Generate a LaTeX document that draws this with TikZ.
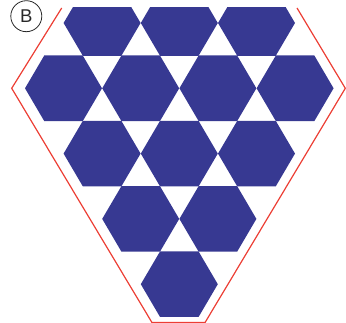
\documentclass[tikz,border=0pt]{standalone}
\usepackage{fontspec}
\setmainfont{Liberation Sans}
\definecolor{hexblue}{RGB}{55,57,146}
\definecolor{outred}{RGB}{236,62,52}
\definecolor{labgray}{RGB}{40,40,40}
\tikzset{
  hexcell/.style={fill=hexblue,draw=none},
  outline/.style={draw=outred,line width=1.2pt,line join=miter},
}
\newcommand{\hexat}[2]{%
  \fill[hexcell] (#1+38.5,#2) -- (#1+19.25,#2+32.8) -- (#1-19.25,#2+32.8) -- (#1-38.5,#2) -- (#1-19.25,#2-32.8) -- (#1+19.25,#2-32.8) -- cycle;}
\begin{document}
\begin{tikzpicture}[x=1pt,y=-1pt]
\useasboundingbox (0,0) rectangle (346,323);
\begin{scope}
\clip (0,8) rectangle (346,330);
\foreach \cx in {102.1,179.3,256.5} {\hexat{\cx}{23}}
\foreach \cx in {63.5,140.7,217.9,295.1} {\hexat{\cx}{88.3}}
\foreach \cx in {102.1,179.3,256.5} {\hexat{\cx}{153.6}}
\foreach \cx in {140.7,217.9} {\hexat{\cx}{218.9}}
\foreach \cx in {179.3} {\hexat{\cx}{284.2}}
\end{scope}
\draw[outline] (61.7,8) -- (11.7,88.3) -- (152,322.6) -- (205,322.6) -- (345.3,88.3) -- (297,8);
\node[circle,draw=labgray,line width=0.8pt,minimum size=31pt,inner sep=0pt,text=labgray,font=\fontsize{18.5}{20}\selectfont] (lab) at (26.3,16.2) {B};
\end{tikzpicture}
\end{document}
